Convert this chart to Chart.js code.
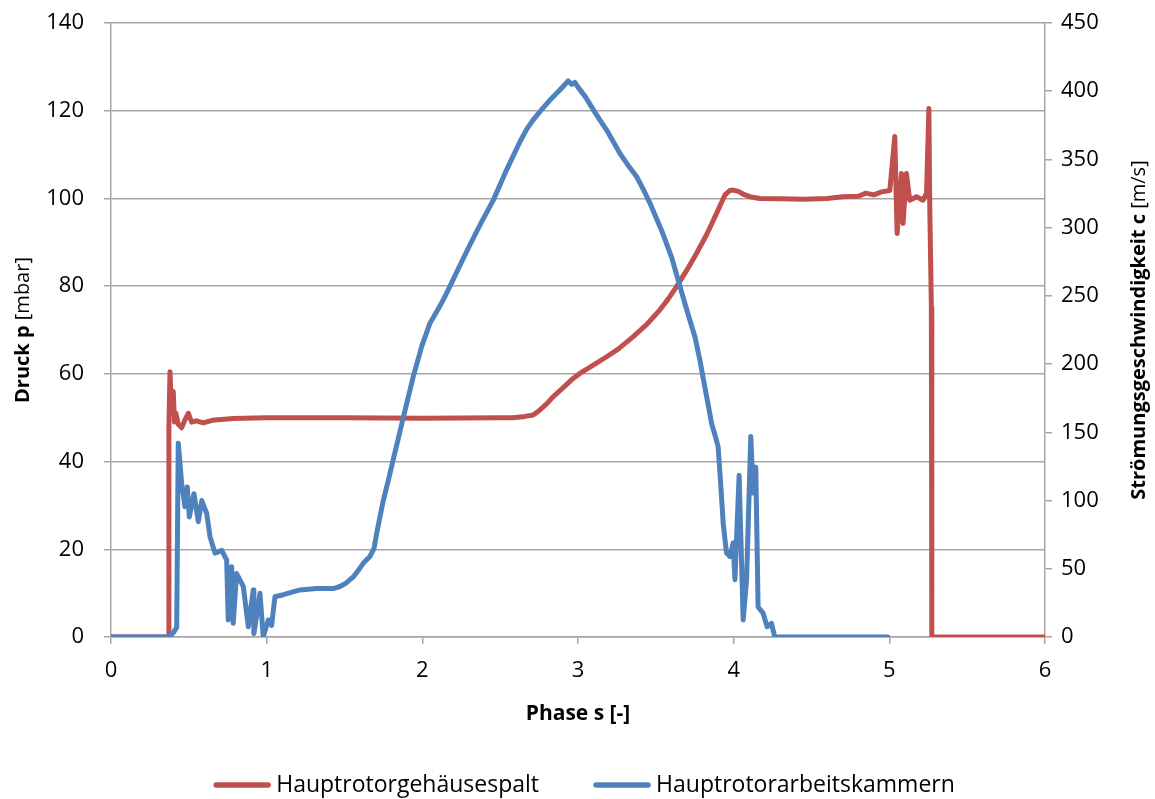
<!DOCTYPE html>
<html>
<head>
<meta charset="utf-8">
<script src="https://cdn.jsdelivr.net/npm/chart.js@4"></script>
<style>
  html, body { margin: 0; padding: 0; background: #fff; }
  #wrap { width: 1155px; height: 799px; }
</style>
</head>
<body>
<div id="wrap"><canvas id="grafico" width="1155" height="799"></canvas></div>
<script>
// Hauptrotorgehäusespalt: Druck p [mbar] über Phase s
const spaltPhase = [0, 0.368, 0.372, 0.379, 0.388, 0.400, 0.408, 0.417, 0.432, 0.454, 0.475, 0.497, 0.518, 0.55, 0.593, 0.65, 0.786, 1.0, 1.5, 2.0, 2.5, 2.58, 2.66, 2.712, 2.75, 2.80, 2.841, 2.90, 2.96, 3.012, 3.08, 3.184, 3.26, 3.355, 3.44, 3.526, 3.58, 3.633, 3.70, 3.762, 3.83, 3.890, 3.944, 3.975, 3.997, 4.03, 4.06, 4.104, 4.168, 4.3, 4.45, 4.6, 4.7, 4.8, 4.85, 4.9, 4.95, 5.003, 5.035, 5.050, 5.078, 5.088, 5.110, 5.131, 5.175, 5.217, 5.239, 5.254, 5.260, 5.265, 5.270, 5.273, 6];
const spaltDruck = [0, 0, 48, 60.5, 52, 56, 49, 51, 48.5, 47.7, 49.5, 51, 49, 49.3, 48.8, 49.4, 49.8, 50, 50, 49.9, 50, 50.0, 50.3, 50.6, 51.6, 53.2, 54.8, 56.7, 58.7, 60.1, 61.6, 63.9, 65.7, 68.5, 71.2, 74.6, 77.1, 79.9, 83.7, 87.5, 92.0, 96.6, 100.8, 101.8, 101.9, 101.6, 101.0, 100.4, 100, 99.9, 99.8, 100, 100.4, 100.5, 101.2, 100.8, 101.5, 101.8, 114.1, 92, 105.7, 94.3, 105.7, 99.6, 100.4, 99.6, 101.2, 120.5, 97.4, 86.7, 75, 0, 0];

// Hauptrotorarbeitskammern: Strömungsgeschwindigkeit c [m/s] über Phase s
const kammerPhase = [0, 0.368, 0.40, 0.422, 0.432, 0.454, 0.475, 0.490, 0.503, 0.533, 0.561, 0.583, 0.615, 0.636, 0.668, 0.711, 0.743, 0.753, 0.775, 0.785, 0.807, 0.850, 0.882, 0.914, 0.918, 0.957, 0.978, 1.010, 1.032, 1.053, 1.107, 1.214, 1.321, 1.428, 1.471, 1.51, 1.535, 1.556, 1.59, 1.620, 1.663, 1.69, 1.707, 1.749, 1.78, 1.813, 1.877, 1.942, 1.996, 2.049, 2.09, 2.134, 2.177, 2.24, 2.306, 2.38, 2.455, 2.54, 2.627, 2.67, 2.712, 2.77, 2.820, 2.88, 2.937, 2.960, 2.980, 3.0, 3.05, 3.098, 3.14, 3.184, 3.269, 3.32, 3.376, 3.42, 3.462, 3.537, 3.601, 3.655, 3.698, 3.751, 3.783, 3.815, 3.84, 3.858, 3.88, 3.900, 3.915, 3.933, 3.954, 3.976, 3.997, 4.008, 4.035, 4.061, 4.083, 4.110, 4.125, 4.142, 4.157, 4.189, 4.215, 4.243, 4.264, 4.99];
const kammerGeschw = [0, 0, 3, 7, 142, 112.5, 95.5, 110, 88, 105, 84.5, 100, 90.5, 73.5, 61.5, 63.5, 56.5, 12.5, 51.5, 10, 46.5, 37, 7.5, 34.5, 2.5, 32, 0, 12.5, 8.5, 29.5, 31, 34.5, 35.5, 35.5, 37, 39.5, 42, 44, 49, 54, 59, 65, 76, 100, 114, 130, 160.5, 191, 213, 230, 238, 247, 257, 272, 287.5, 304, 320, 342, 363, 372, 379, 387, 393.5, 400.5, 407.5, 405, 406.5, 403, 395.5, 386.5, 379, 371.5, 354.5, 346, 337.5, 328, 318, 298, 278.5, 257, 240, 220, 203, 183, 168, 156.5, 148, 139.5, 115, 83, 61.5, 59, 69, 42, 118.5, 12.5, 42, 147, 105.5, 124.5, 22, 17.5, 7.5, 10, 0, 0];

const xTicks = [0, 1, 2, 3, 4, 5, 6];
const druckTicks = [0, 20, 40, 60, 80, 100, 120, 140];
const geschwTicks = [0, 50, 100, 150, 200, 250, 300, 350, 400, 450];

const ROT = "#C0504D";
const BLAU = "#4F81BD";
const GRID = "#A6A6A6";
const SCHRIFT = "'Open Sans', 'DejaVu Sans', sans-serif";

const toPoints = (xs, ys) => xs.map((x, i) => ({ x, y: ys[i] }));

// Achsentitel mit fettem und normalem Teil
function drawTitle(ctx, parts, x, y, angle, size) {
  ctx.save();
  ctx.translate(x, y);
  ctx.rotate(angle);
  ctx.textBaseline = "middle";
  ctx.fillStyle = "#000";
  let total = 0;
  parts.forEach(p => {
    ctx.font = (p.bold ? "bold " : "") + size + "px " + SCHRIFT;
    p.w = ctx.measureText(p.text).width;
    total += p.w;
  });
  let pos = -total / 2;
  parts.forEach(p => {
    ctx.font = (p.bold ? "bold " : "") + size + "px " + SCHRIFT;
    ctx.textAlign = "left";
    ctx.fillText(p.text, pos, 0);
    pos += p.w;
  });
  ctx.restore();
}

const titelUndLegende = {
  id: "titelUndLegende",
  afterDraw(chart) {
    const { ctx, chartArea } = chart;
    const midY = (chartArea.top + chartArea.bottom) / 2;
    const midX = (chartArea.left + chartArea.right) / 2;

    drawTitle(ctx, [{ text: "Druck p ", bold: true }, { text: "[mbar]", bold: false }], 23, midY, -Math.PI / 2, 20);
    drawTitle(ctx, [{ text: "Strömungsgeschwindigkeit c ", bold: true }, { text: "[m/s]", bold: false }], chart.width - 16, midY, -Math.PI / 2, 20);
    drawTitle(ctx, [{ text: "Phase s [-]", bold: true }], midX, chartArea.bottom + 77, 0, 21);

    // Legende unten
    const lineW = 58, gap = 5, itemGap = 54, y = 785, size = 23;
    ctx.save();
    ctx.font = size + "px " + SCHRIFT;
    const items = chart.data.datasets.map(ds => ({
      label: ds.label, color: ds.borderColor, w: lineW + gap + ctx.measureText(ds.label).width
    }));
    const total = items.reduce((s, it) => s + it.w, 0) + itemGap * (items.length - 1);
    let x = midX + 6 - total / 2;
    items.forEach(it => {
      ctx.strokeStyle = it.color;
      ctx.lineWidth = 5.5;
      ctx.lineCap = "round";
      ctx.beginPath();
      ctx.moveTo(x + 3, y);
      ctx.lineTo(x + lineW - 3, y);
      ctx.stroke();
      ctx.fillStyle = "#000";
      ctx.textAlign = "left";
      ctx.textBaseline = "middle";
      ctx.fillText(it.label, x + lineW + gap, y);
      x += it.w + itemGap;
    });
    ctx.restore();
  }
};

// feste Achsenbreite, ohne zusätzlichen Rand für die Beschriftung
const fixWidth = w => s => { s.width = w; s.paddingTop = 0; s.paddingBottom = 0; };

const ctx = document.getElementById("grafico").getContext("2d");

new Chart(ctx, {
  type: "scatter",
  data: {
    datasets: [
      {
        label: "Hauptrotorgehäusespalt",
        data: toPoints(spaltPhase, spaltDruck),
        yAxisID: "y",
        borderColor: ROT,
        backgroundColor: ROT,
        borderWidth: 5,
        borderCapStyle: "round",
        borderJoinStyle: "round",
        showLine: true,
        pointRadius: 0,
        tension: 0,
        order: 1
      },
      {
        label: "Hauptrotorarbeitskammern",
        data: toPoints(kammerPhase, kammerGeschw),
        yAxisID: "y1",
        borderColor: BLAU,
        backgroundColor: BLAU,
        borderWidth: 5,
        borderCapStyle: "round",
        borderJoinStyle: "round",
        showLine: true,
        pointRadius: 0,
        tension: 0,
        order: 0
      }
    ]
  },
  options: {
    responsive: false,
    animation: false,
    layout: { padding: { top: 23, right: 0, bottom: 0, left: 0 } },
    plugins: {
      legend: { display: false },
      tooltip: { enabled: false }
    },
    scales: {
      x: {
        type: "linear",
        min: 0,
        max: 6,
        afterBuildTicks: s => { s.ticks = xTicks.map(v => ({ value: v })); },
        afterFit: s => { s.height = 162; s.paddingLeft = 0; s.paddingRight = 0; },
        ticks: { font: { family: SCHRIFT, size: 22 }, color: "#000", padding: 14 },
        grid: { drawOnChartArea: false, color: GRID, lineWidth: 1.5, tickLength: 7 },
        border: { color: GRID, width: 1.5 }
      },
      y: {
        position: "left",
        min: 0,
        max: 140,
        afterBuildTicks: s => { s.ticks = druckTicks.map(v => ({ value: v })); },
        afterFit: fixWidth(111),
        ticks: { font: { family: SCHRIFT, size: 22 }, color: "#000", padding: 20 },
        grid: { color: GRID, lineWidth: 1.5, tickLength: 7 },
        border: { color: GRID, width: 1.5 }
      },
      y1: {
        position: "right",
        min: 0,
        max: 450,
        afterBuildTicks: s => { s.ticks = geschwTicks.map(v => ({ value: v })); },
        afterFit: fixWidth(110),
        ticks: { font: { family: SCHRIFT, size: 22 }, color: "#000", padding: 9 },
        grid: { drawOnChartArea: false, color: GRID, lineWidth: 1.5, tickLength: 7 },
        border: { color: GRID, width: 1.5 }
      }
    }
  },
  plugins: [titelUndLegende]
});
</script>
</body>
</html>
